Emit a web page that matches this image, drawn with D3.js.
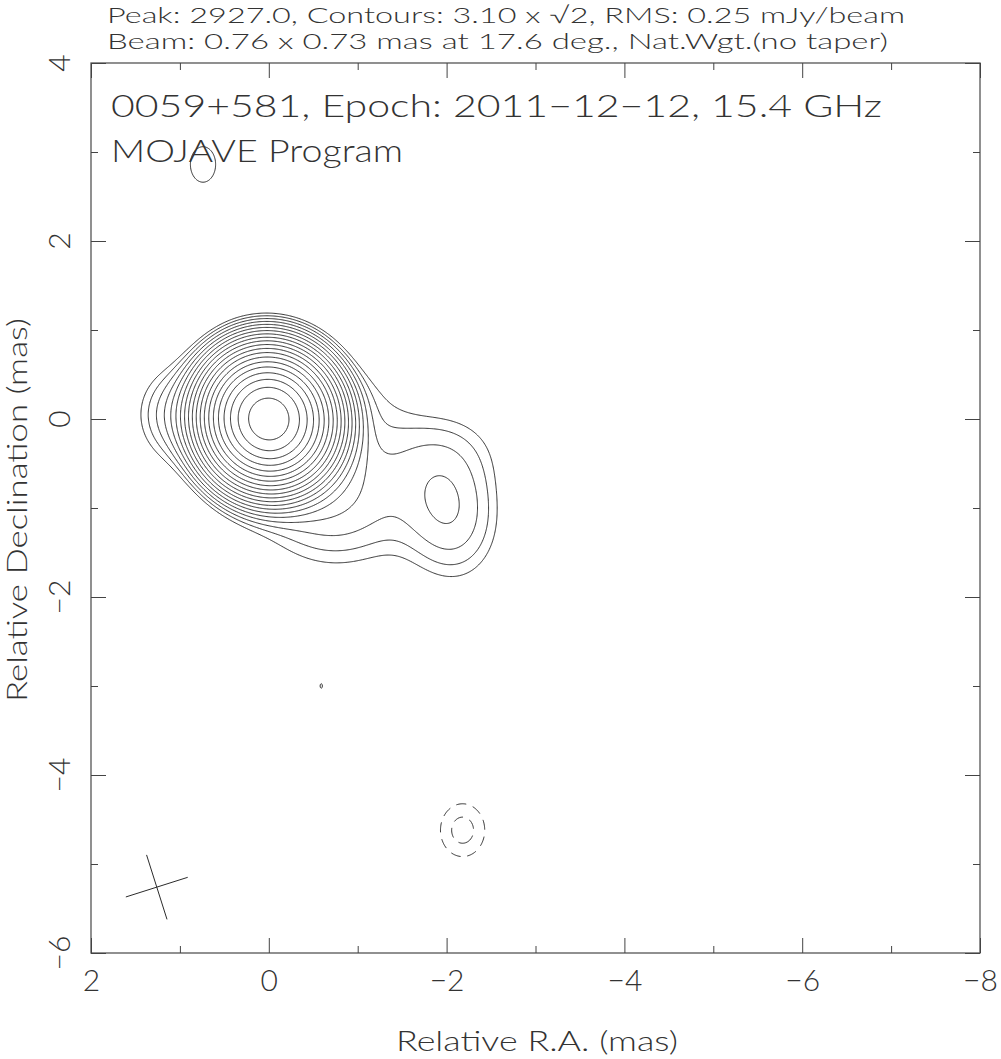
<!DOCTYPE html>
<html>
<head>
<meta charset="utf-8">
<script src="https://cdn.jsdelivr.net/npm/d3@7"></script>
<style>
  body { margin: 0; background: #fff; }
  svg text { font-family: "Lato", "DejaVu Sans", sans-serif; font-weight: 300; fill: #333; }
</style>
</head>
<body>
<svg id="chart" width="1001" height="1059"></svg>
<script>
// Header text
const headerLines = [
  "Peak: 2927.0, Contours: 3.10 x \u221A2, RMS: 0.25 mJy/beam",
  "Beam: 0.76 x 0.73 mas at 17.6 deg., Nat.Wgt.(no taper)"
];
const sourceLine = "0059+581, Epoch: 2011\u221212\u221212, 15.4 GHz";
const programLine = "MOJAVE Program";

// Contour levels (mJy/beam), 3.10 x sqrt2 steps
const posLevels = [3.10, 4.38, 6.20, 8.77, 12.4, 17.5, 24.8, 35.1, 49.6, 70.1,
                   99.2, 140, 198, 281, 397, 561, 794, 1122, 1587, 2245];
const negLevels = [3.10, 4.38];

// Restoring beam (mas, deg)
const beamMaj = 0.76, beamMin = 0.73, beamPA = 17.6;
const beamCenter = [1.26, -5.26];

// Brightness components (RA mas, Dec mas, peak mJy/beam, sigma maj/min mas, PA deg)
const compRA   = [0,      1.05,  -2.0,  -2.1,  -0.7,  -1.85, -1.25,  0.74,  -0.59, -2.18];
const compDec  = [0,      0.05,  -0.88, -1.38, -0.85, -0.3,   0.3,   2.86,  -3.0,  -4.62];
const compPeak = [2927,   7.0,    6.3,   3.5,   9.0,   3.2,   1.7,   3.42,   3.11, -4.9];
const compMaj  = [0.3227, 0.36,   0.42,  0.42,  0.60,  0.55,  0.30,  0.45,   0.30,  0.31];
const compMin  = [0.3100, 0.30,   0.37,  0.36,  0.52,  0.34,  0.30,  0.32,   0.15,  0.26];
const compPA   = [17.6,   0,      5,     0,     77,    90,    0,     0,      0,     0];

// Axis ticks
const majorTicks = [2, 0, -2, -4, -6, -8];
const minorTicks = [1, -1, -3, -5, -7];
const yMajorTicks = [4, 2, 0, -2, -4, -6];
const yMinorTicks = [3, 1, -1, -3, -5];

const svg = d3.select("#chart");
const plotL = 91, plotR = 980, plotT = 63, plotB = 953;

const x = d3.scaleLinear().domain([2, -8]).range([plotL, plotR]);
const y = d3.scaleLinear().domain([-6, 4]).range([plotB, plotT]);

// brightness model on a grid
const step = 0.01;
const raMax = 2.0, raMin = -3.3, decMax = 3.6, decMin = -5.5;
const nx = Math.round((raMax - raMin) / step) + 1;
const ny = Math.round((decMax - decMin) / step) + 1;
const values = new Float64Array(nx * ny);
const comps = compRA.map((d, i) => {
  const pa = compPA[i] * Math.PI / 180;
  return {ra: d, dec: compDec[i], p: compPeak[i], a: compMaj[i], b: compMin[i],
          s: Math.sin(pa), c: Math.cos(pa)};
});
for (let j = 0; j < ny; j++) {
  const dec = decMax - j * step;
  for (let i = 0; i < nx; i++) {
    const ra = raMax - i * step;
    let v = 0;
    for (const k of comps) {
      const dx = ra - k.ra, dy = dec - k.dec;
      const u = dx * k.s + dy * k.c;
      const w = dx * k.c - dy * k.s;
      const e = 0.5 * (u * u / (k.a * k.a) + w * w / (k.b * k.b));
      if (e < 30) v += k.p * Math.exp(-e);
    }
    values[j * nx + i] = v;
  }
}

const gridPath = d3.geoPath(d3.geoTransform({
  point(gx, gy) {
    this.stream.point(x(raMax - (gx - 0.5) * step), y(decMax - (gy - 0.5) * step));
  }
}));

const posContours = d3.contours().size([nx, ny]).thresholds(posLevels)(values);
const negValues = values.map(v => -v);
const negContours = d3.contours().size([nx, ny]).thresholds(negLevels)(negValues);

const plot = svg.append("g");
plot.selectAll("path.pos")
  .data(posContours)
  .join("path")
  .attr("class", "pos")
  .attr("d", gridPath)
  .attr("fill", "none")
  .attr("stroke", "#2b2b2b")
  .attr("stroke-width", 1);

plot.selectAll("path.neg")
  .data(negContours)
  .join("path")
  .attr("class", "neg")
  .attr("d", gridPath)
  .attr("fill", "none")
  .attr("stroke", "#2b2b2b")
  .attr("stroke-width", 1)
  .attr("stroke-dasharray", "10,7");

// beam cross
const beamAxes = [[beamMaj, beamPA], [beamMin, beamPA + 90]];
svg.selectAll("line.beam")
  .data(beamAxes)
  .join("line")
  .attr("class", "beam")
  .attr("x1", d => x(beamCenter[0] + d[0] / 2 * Math.sin(d[1] * Math.PI / 180)))
  .attr("y1", d => y(beamCenter[1] + d[0] / 2 * Math.cos(d[1] * Math.PI / 180)))
  .attr("x2", d => x(beamCenter[0] - d[0] / 2 * Math.sin(d[1] * Math.PI / 180)))
  .attr("y2", d => y(beamCenter[1] - d[0] / 2 * Math.cos(d[1] * Math.PI / 180)))
  .attr("stroke", "#2b2b2b")
  .attr("stroke-width", 1);

// frame
svg.append("rect")
  .attr("x", plotL).attr("y", plotT)
  .attr("width", plotR - plotL).attr("height", plotB - plotT)
  .attr("fill", "none").attr("stroke", "#555").attr("stroke-width", 1.3);

// ticks on all four sides
function ticks(g, axis) {
  g.call(axis);
  g.select(".domain").remove();
  g.selectAll(".tick line").attr("stroke", "#444");
}
const fmt = d => d3.format("d")(d).replace("-", "\u2212");

svg.append("g").attr("transform", `translate(0,${plotB})`)
  .call(ticks, d3.axisBottom(x).tickValues(minorTicks).tickSize(-7).tickFormat(""));
const xAx = svg.append("g").attr("transform", `translate(0,${plotB})`)
  .call(ticks, d3.axisBottom(x).tickValues(majorTicks).tickSize(-15).tickPadding(17).tickFormat(fmt));
xAx.attr("font-family", null).attr("font-size", null);
xAx.selectAll("text").attr("font-size", 30).attr("fill", null);

svg.append("g").attr("transform", `translate(0,${plotT})`)
  .call(ticks, d3.axisTop(x).tickValues(minorTicks).tickSize(-7).tickFormat(""));
svg.append("g").attr("transform", `translate(0,${plotT})`)
  .call(ticks, d3.axisTop(x).tickValues(majorTicks).tickSize(-15).tickFormat(""));

svg.append("g").attr("transform", `translate(${plotL},0)`)
  .call(ticks, d3.axisLeft(y).tickValues(yMinorTicks).tickSize(-7).tickFormat(""));
svg.append("g").attr("transform", `translate(${plotL},0)`)
  .call(ticks, d3.axisLeft(y).tickValues(yMajorTicks).tickSize(-15).tickFormat(""));
svg.append("g").attr("transform", `translate(${plotR},0)`)
  .call(ticks, d3.axisRight(y).tickValues(yMinorTicks).tickSize(-7).tickFormat(""));
svg.append("g").attr("transform", `translate(${plotR},0)`)
  .call(ticks, d3.axisRight(y).tickValues(yMajorTicks).tickSize(-15).tickFormat(""));

// rotated y tick labels
svg.selectAll("text.ylab")
  .data(yMajorTicks)
  .join("text")
  .attr("class", "ylab")
  .attr("transform", d => `translate(70,${y(d)}) rotate(-90)`)
  .attr("text-anchor", "middle")
  .attr("font-size", 30)
  .text(fmt);

// axis titles
svg.append("text")
  .attr("x", 537).attr("y", 1051)
  .attr("text-anchor", "middle")
  .attr("font-size", 28)
  .attr("textLength", 282).attr("lengthAdjust", "spacingAndGlyphs")
  .text("Relative R.A. (mas)");

svg.append("text")
  .attr("transform", "translate(27,510) rotate(-90)")
  .attr("text-anchor", "middle")
  .attr("font-size", 28)
  .attr("textLength", 384).attr("lengthAdjust", "spacingAndGlyphs")
  .text("Relative Declination (mas)");

// header
const headerWidths = [798, 781];
svg.selectAll("text.head")
  .data(headerLines)
  .join("text")
  .attr("class", "head")
  .attr("x", 107)
  .attr("y", (d, i) => 23 + i * 26)
  .attr("font-size", 22)
  .attr("textLength", (d, i) => headerWidths[i]).attr("lengthAdjust", "spacingAndGlyphs")
  .text(d => d);

svg.append("text")
  .attr("x", 111).attr("y", 117)
  .attr("font-size", 32)
  .attr("textLength", 771).attr("lengthAdjust", "spacingAndGlyphs")
  .text(sourceLine);

svg.append("text")
  .attr("x", 111).attr("y", 162)
  .attr("font-size", 32)
  .attr("textLength", 292).attr("lengthAdjust", "spacingAndGlyphs")
  .text(programLine);
</script>
</body>
</html>
